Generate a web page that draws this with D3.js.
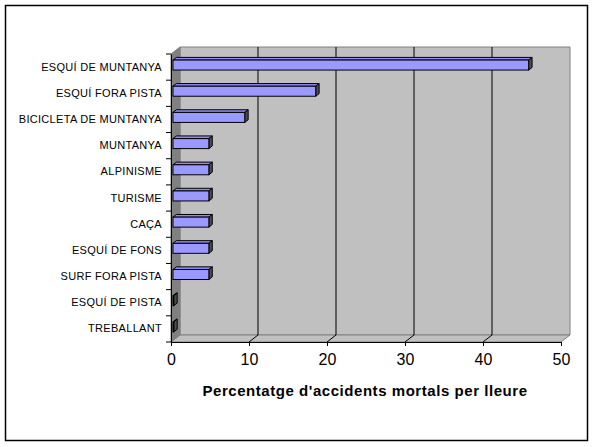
<!DOCTYPE html>
<html>
<head>
<meta charset="utf-8">
<script src="https://cdn.jsdelivr.net/npm/d3@7"></script>
<style>
  body { margin: 0; background: #fff; }
  text { font-family: "Liberation Sans", Arial, sans-serif; }
</style>
</head>
<body>
<div id="chart-area"></div>
<script>
// data
const categories = ["ESQUÍ DE MUNTANYA", "ESQUÍ FORA PISTA", "BICICLETA DE MUNTANYA", "MUNTANYA",
  "ALPINISME", "TURISME", "CAÇA", "ESQUÍ DE FONS", "SURF FORA PISTA", "ESQUÍ DE PISTA", "TREBALLANT"];
const values = [45.6, 18.3, 9.2, 4.6, 4.6, 4.6, 4.6, 4.6, 4.6, 0.1, 0.1];
const xTicks = [0, 10, 20, 30, 40, 50];
const xTitle = "Percentatge d'accidents mortals per lleure";

const width = 594;
const height = 447;

// front plane of the 3D box
const plotLeft = 171, plotRight = 561, plotTop = 54, plotBottom = 342;
// depth vector of the box
const dx = 9, dy = -7;
// bar depth fractions
const f1 = 0.22, f2 = 0.6;

const svg = d3.select("#chart-area")
  .append("svg")
  .attr("width", width)
  .attr("height", height);

// outer frame
svg.append("rect")
  .attr("x", 5.5).attr("y", 5.5)
  .attr("width", 582).attr("height", 435)
  .attr("fill", "#fff")
  .attr("stroke", "#000")
  .attr("stroke-width", 1.5);

const xScale = d3.scaleLinear().domain([0, 50]).range([plotLeft, plotRight]);
const yScale = d3.scaleBand().domain(categories).range([plotTop, plotBottom]).padding(0);

const pts = arr => arr.map(p => p.join(",")).join(" ");

// back wall
svg.append("polygon")
  .attr("points", pts([[plotLeft + dx, plotTop + dy], [plotRight + dx, plotTop + dy], [plotRight + dx, plotBottom + dy], [plotLeft + dx, plotBottom + dy]]))
  .attr("fill", "#c0c0c0")
  .attr("stroke", "#808080");

// floor
svg.append("polygon")
  .attr("points", pts([[plotLeft, plotBottom], [plotLeft + dx, plotBottom + dy], [plotRight + dx, plotBottom + dy], [plotRight, plotBottom]]))
  .attr("fill", "#c0c0c0")
  .attr("stroke", "#808080");

// side wall
svg.append("polygon")
  .attr("points", pts([[plotLeft, plotTop], [plotLeft + dx, plotTop + dy], [plotLeft + dx, plotBottom + dy], [plotLeft, plotBottom]]))
  .attr("fill", "#808080")
  .attr("stroke", "#808080");

// gridlines on back wall + floor
svg.append("g").selectAll("polyline")
  .data(xTicks.slice(1, -1))
  .join("polyline")
  .attr("points", d => pts([[xScale(d) + dx, plotTop + dy], [xScale(d) + dx, plotBottom + dy], [xScale(d), plotBottom]]))
  .attr("fill", "none")
  .attr("stroke", "#000")
  .attr("stroke-width", 1);

// bars
const barH = 10;
const bars = svg.append("g").selectAll("g")
  .data(categories.map((c, i) => ({ cat: c, value: values[i] })))
  .join("g");

const fx0 = d => xScale(0) + dx * f1;
const fx1 = d => xScale(d.value) + dx * f1;
const fy0 = d => yScale(d.cat) + yScale.bandwidth() / 2 - barH / 2 + dy * f1 - 0.5;
const ddx = dx * (f2 - f1), ddy = dy * (f2 - f1);

// top face
bars.append("polygon")
  .attr("points", d => pts([[fx0(d), fy0(d)], [fx0(d) + ddx, fy0(d) + ddy], [fx1(d) + ddx, fy0(d) + ddy], [fx1(d), fy0(d)]]))
  .attr("fill", "#8c8cf2")
  .attr("stroke", "#000")
  .attr("stroke-linejoin", "round");

// end face
bars.append("polygon")
  .attr("points", d => pts([[fx1(d), fy0(d)], [fx1(d) + ddx, fy0(d) + ddy], [fx1(d) + ddx, fy0(d) + ddy + barH], [fx1(d), fy0(d) + barH]]))
  .attr("fill", "#4d4d4d")
  .attr("stroke", "#000")
  .attr("stroke-linejoin", "round");

// front face
bars.append("rect")
  .attr("x", fx0)
  .attr("y", fy0)
  .attr("width", d => fx1(d) - fx0(d))
  .attr("height", barH)
  .attr("fill", "#9999ff")
  .attr("stroke", "#000");

// y axis (category)
const yAxis = d3.axisLeft(yScale).tickSize(0).tickPadding(9);
const yAxisGroup = svg.append("g")
  .attr("transform", `translate(${plotLeft},0)`)
  .call(yAxis);
yAxisGroup.select(".domain").attr("stroke", "#000");
yAxisGroup.selectAll("text")
  .attr("font-size", 11)
  .attr("letter-spacing", 0.3)
  .attr("fill", "#000")
  .attr("font-family", "Liberation Sans, Arial, sans-serif");

// category boundary ticks
svg.append("g").selectAll("line")
  .data(d3.range(categories.length + 1))
  .join("line")
  .attr("x1", plotLeft - 5).attr("x2", plotLeft)
  .attr("y1", i => plotTop + i * yScale.step())
  .attr("y2", i => plotTop + i * yScale.step())
  .attr("stroke", "#000");

// x axis
const xAxis = d3.axisBottom(xScale).tickValues(xTicks).tickSize(4).tickPadding(8).tickSizeOuter(0);
const xAxisGroup = svg.append("g")
  .attr("transform", `translate(0,${plotBottom})`)
  .call(xAxis);
xAxisGroup.selectAll("text")
  .attr("font-size", 16)
  .attr("fill", "#000")
  .attr("font-family", "Liberation Sans, Arial, sans-serif");

// x axis title
svg.append("text")
  .attr("x", 365)
  .attr("y", 396)
  .attr("text-anchor", "middle")
  .attr("font-size", 15)
  .attr("font-weight", "bold")
  .attr("letter-spacing", 0.55)
  .text(xTitle);
</script>
</body>
</html>
